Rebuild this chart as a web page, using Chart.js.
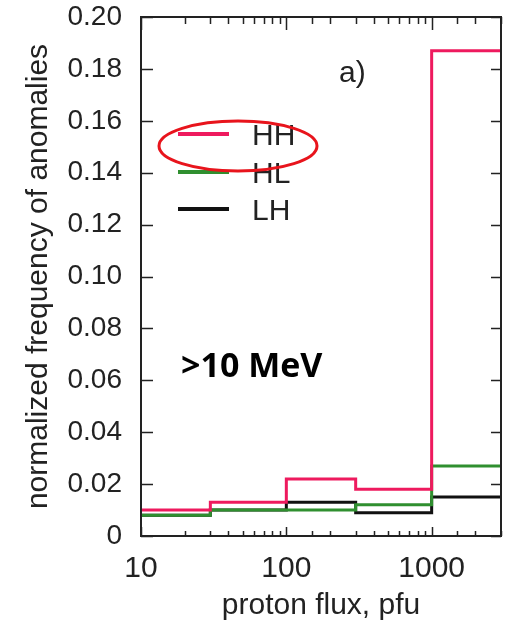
<!DOCTYPE html>
<html>
<head>
<meta charset="utf-8">
<script src="https://cdn.jsdelivr.net/npm/chart.js@4.4.1/dist/chart.umd.min.js"></script>
<style>
  html, body { margin: 0; padding: 0; background: #fff; }
</style>
</head>
<body>
<canvas id="fluxChart" width="510" height="624"></canvas>
<script>
// bin edges of proton flux (pfu), last edge closes the last bin
const binEdges = [10, 30, 100, 300, 1000, 3000];
const seriesNames = ['HH', 'HL', 'LH'];
const hhValues = [0.010, 0.013, 0.022, 0.018, 0.187];
const hlValues = [0.008, 0.010, 0.010, 0.012, 0.027];
const lhValues = [0.008, 0.010, 0.013, 0.009, 0.015];
const yTickValues = [0, 0.02, 0.04, 0.06, 0.08, 0.10, 0.12, 0.14, 0.16, 0.18, 0.20];
const xTickLabels = [10, 100, 1000];

const colors = ['#ee1a5e', '#2f8f2f', '#111111'];
const fontFamily = '"Liberation Sans", Arial, sans-serif';

// step points: each value holds until the next edge
function toSteps(values) {
    return binEdges.map((x, i) => ({ x: x, y: values[Math.min(i, values.length - 1)] }));
}

const isDecade = v => Math.abs(Math.log10(v) - Math.round(Math.log10(v))) < 1e-9;

// inward tick marks on all four sides, frame, legend and annotations
const decorPlugin = {
    id: 'decor',
    afterDraw(chart) {
        const ctx = chart.ctx;
        const area = chart.chartArea;
        const xs = chart.scales.x;
        const ys = chart.scales.y;
        ctx.save();
        ctx.strokeStyle = '#222';
        ctx.lineWidth = 2;
        ctx.strokeRect(area.left, area.top, area.right - area.left, area.bottom - area.top);

        ctx.lineWidth = 1.5;
        ctx.beginPath();
        xs.ticks.forEach(t => {
            const px = Math.round(xs.getPixelForValue(t.value)) + 0.5;
            const major = isDecade(t.value);
            const lb = major ? 9 : 5;
            const lt = major ? 13 : 7;
            ctx.moveTo(px, area.bottom);
            ctx.lineTo(px, area.bottom - lb);
            ctx.moveTo(px, area.top);
            ctx.lineTo(px, area.top + lt);
        });
        ys.ticks.forEach(t => {
            const py = Math.round(ys.getPixelForValue(t.value)) + 0.5;
            ctx.moveTo(area.left, py);
            ctx.lineTo(area.left + 12, py);
            ctx.moveTo(area.right, py);
            ctx.lineTo(area.right - 10, py);
        });
        ctx.stroke();

        // legend
        const legendY = [134, 172, 209];
        ctx.font = '30px ' + fontFamily;
        ctx.textBaseline = 'alphabetic';
        ctx.textAlign = 'left';
        chart.data.datasets.forEach((ds, i) => {
            ctx.strokeStyle = ds.borderColor;
            ctx.lineWidth = 4;
            ctx.beginPath();
            ctx.moveTo(178, legendY[i]);
            ctx.lineTo(229, legendY[i]);
            ctx.stroke();
            ctx.fillStyle = '#222';
            ctx.fillText(ds.label, 252, legendY[i] + 11);
        });

        // red highlight ring around HH
        ctx.strokeStyle = '#e8141c';
        ctx.lineWidth = 3;
        ctx.beginPath();
        ctx.ellipse(238, 146, 79, 25, 0, 0, Math.PI * 2);
        ctx.stroke();

        ctx.fillStyle = '#222';
        ctx.font = '30px ' + fontFamily;
        ctx.fillText('a)', 339, 82);

        ctx.fillStyle = '#000';
        ctx.font = 'bold 34px "Open Sans", Lato, sans-serif';
        ctx.fillText('>10 MeV', 181, 377);
        ctx.restore();
    }
};

new Chart(document.getElementById('fluxChart'), {
    type: 'line',
    data: {
        datasets: [
            { label: seriesNames[0], data: toSteps(hhValues), borderColor: colors[0], order: 0 },
            { label: seriesNames[1], data: toSteps(hlValues), borderColor: colors[1], order: 1 },
            { label: seriesNames[2], data: toSteps(lhValues), borderColor: colors[2], order: 2 }
        ]
    },
    options: {
        responsive: false,
        animation: false,
        layout: { padding: { top: 17, right: 9, left: 0, bottom: 0 } },
        elements: {
            line: { stepped: true, borderWidth: 3, fill: false, tension: 0 },
            point: { radius: 0, hoverRadius: 0 }
        },
        plugins: {
            legend: { display: false },
            tooltip: { enabled: false }
        },
        scales: {
            x: {
                type: 'logarithmic',
                min: 10,
                max: 3000,
                afterFit(scale) {
                    scale.height = 88;
                    scale.paddingLeft = 0;
                    scale.paddingRight = 0;
                },
                grid: { display: false, drawTicks: false },
                border: { display: false },
                ticks: {
                    autoSkip: false,
                    maxRotation: 0,
                    padding: 15,
                    color: '#222',
                    font: { family: fontFamily, size: 30 },
                    callback: v => xTickLabels.includes(v) ? String(v) : ''
                },
                title: {
                    display: true,
                    text: 'proton flux, pfu',
                    color: '#222',
                    font: { family: fontFamily, size: 30 },
                    padding: { top: 0, bottom: 0 }
                }
            },
            y: {
                min: 0,
                max: 0.2,
                afterFit(scale) {
                    scale.width = 141;
                    scale.paddingTop = 0;
                    scale.paddingBottom = 0;
                },
                afterBuildTicks(scale) { scale.ticks = yTickValues.map(v => ({ value: v })); },
                grid: { display: false, drawTicks: false },
                border: { display: false },
                ticks: {
                    padding: 19,
                    color: '#222',
                    font: { family: fontFamily, size: 28 },
                    callback: v => v === 0 ? '0' : v.toFixed(2)
                },
                title: {
                    display: true,
                    text: 'normalized frequency of anomalies',
                    color: '#222',
                    font: { family: fontFamily, size: 30 },
                    padding: { top: 21, bottom: 0 }
                }
            }
        }
    },
    plugins: [decorPlugin]
});
</script>
</body>
</html>
